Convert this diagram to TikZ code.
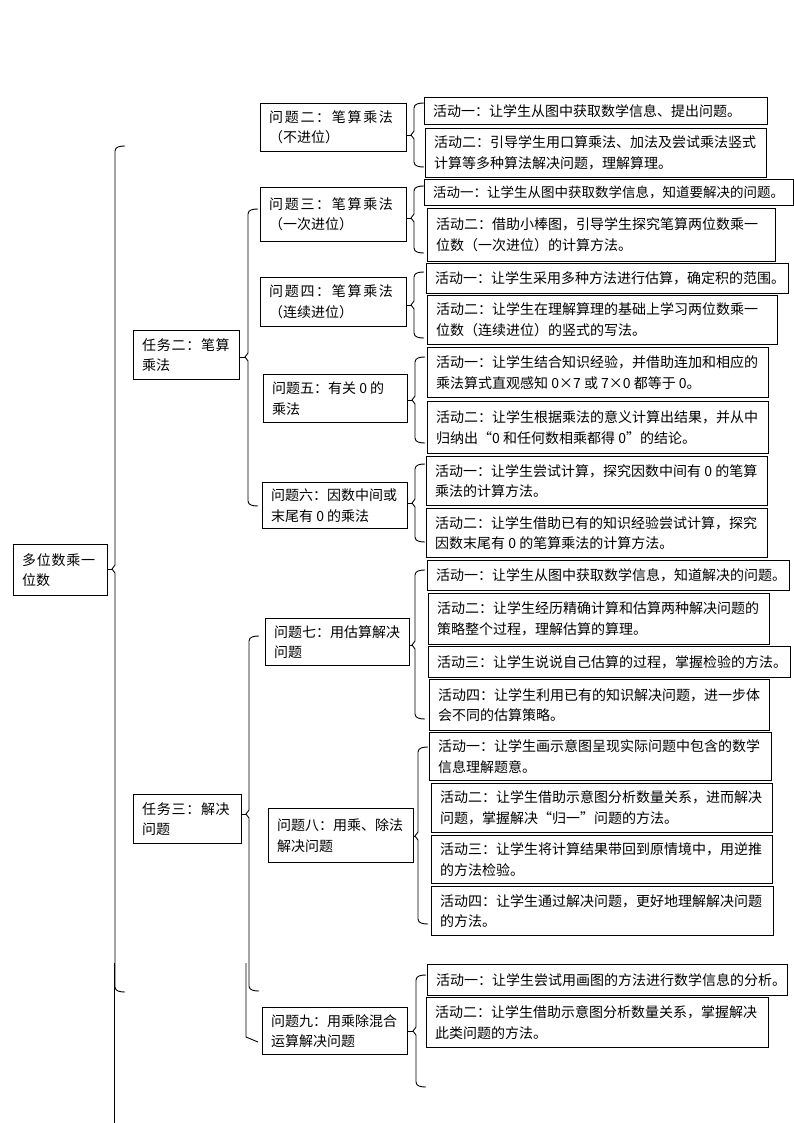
\documentclass[tikz,border=0pt]{standalone}
\usepackage{fontspec}
\setmainfont{Noto Sans CJK SC}
\newfontfamily\cjk{Noto Sans CJK SC}
\tikzset{
  box/.style={draw, line width=0.9pt, rectangle, inner sep=0pt},
  txt/.style={inner sep=0pt, align=left, anchor=west, font=\cjk\fontsize{14}{20.5}\selectfont},
  brk/.style={draw, line width=0.9pt},
  conn/.style={draw, line width=0.9pt}
}
\newcommand\bx[6]{%
  \pgfmathsetmacro\bw{#4-#2}\pgfmathsetmacro\bh{#5-#3}%
  \node[box, minimum width=\bw pt, minimum height=\bh pt, anchor=north west] (#1) at (#2,#3) {};
  \node[txt] (#1-t) at ([xshift=9pt]#1.west) {#6};}
% brace: name, x, top, mid, bottom
\newcommand\brc[5]{%
  \coordinate (#1) at (#2-3,#4);
  \draw[brk] (#2+10,#3) to[out=180,in=90] (#2,#3+5) -- (#2,#4-4) -- (#1) -- (#2,#4+4) -- (#2,#5-5) to[out=-90,in=180] (#2+10,#5);}
\newcommand\ls[1]{{\addfontfeature{LetterSpace=12}#1}}
\newcommand\lss[1]{{\addfontfeature{LetterSpace=5}#1}}
\begin{document}
\begin{tikzpicture}[x=1pt,y=-1pt]
\useasboundingbox (0,0) rectangle (794,1123);
% root and tasks
\bx{root}{13}{544}{107}{595}{\lss{多位数乘一}\\位数}
\bx{t2}{133}{330}{239}{379}{\lss{任务二：笔算}\\乘法}
\bx{t3}{133}{794}{241}{843}{\lss{任务三：解决}\\问题}
% problems
\bx{p2}{260}{103}{406}{151}{\ls{问题二：笔算乘法}\\（不进位）}
\bx{p3}{260}{187}{406}{241}{\ls{问题三：笔算乘法}\\（一次进位）}
\bx{p4}{260}{277}{406}{326}{\ls{问题四：笔算乘法}\\（连续进位）}
\bx{p5}{263}{374}{407}{422}{问题五：有关 0 的\\乘法}
\bx{p6}{262}{482}{407}{528}{问题六：因数中间或\\末尾有 0 的乘法}
\bx{p7}{265}{618}{409}{665}{问题七：用估算解决\\问题}
\bx{p8}{268}{808}{413}{862}{问题八：用乘、除法\\解决问题}
\bx{p9}{262}{1007}{407}{1054}{问题九：用乘除混合\\运算解决问题}
% activities
\bx{a21}{424}{97}{767}{124}{活动一：让学生从图中获取数学信息、提出问题。}
\bx{a22}{425}{128}{766}{177}{活动二：引导学生用口算乘法、加法及尝试乘法竖式\\计算等多种算法解决问题，理解算理。}
\bx{a31}{424}{179}{793}{205}{{\fontsize{13.5}{20.5}\selectfont 活动一：让学生从图中获取数学信息，知道要解决的问题。}}
\bx{a32}{427}{208}{775}{261}{活动二：借助小棒图，引导学生探究笔算两位数乘一\\位数（一次进位）的计算方法。}
\bx{a41}{426}{263}{788}{293}{活动一：让学生采用多种方法进行估算，确定积的范围。}
\bx{a42}{427}{295}{777}{344}{活动二：让学生在理解算理的基础上学习两位数乘一\\位数（连续进位）的竖式的写法。}
\bx{a51}{427}{347}{768}{397}{活动一：让学生结合知识经验，并借助连加和相应的\\乘法算式直观感知 0×7 或 7×0 都等于 0。}
\bx{a52}{427}{401}{768}{453}{活动二：让学生根据乘法的意义计算出结果，并从中\\归纳出“0 和任何数相乘都得 0”的结论。}
\bx{a61}{426}{456}{767}{505}{活动一：让学生尝试计算，探究因数中间有 0 的笔算\\乘法的计算方法。}
\bx{a62}{426}{508}{767}{557}{活动二：让学生借助已有的知识经验尝试计算，探究\\因数末尾有 0 的笔算乘法的计算方法。}
\bx{a71}{427}{560}{789}{590}{活动一：让学生从图中获取数学信息，知道解决的问题。}
\bx{a72}{428}{593}{769}{644}{活动二：让学生经历精确计算和估算两种解决问题的\\策略整个过程，理解估算的算理。}
\bx{a73}{428}{646}{790}{677}{活动三：让学生说说自己估算的过程，掌握检验的方法。}
\bx{a74}{429}{679}{769}{730}{活动四：让学生利用已有的知识解决问题，进一步体\\会不同的估算策略。}
\bx{a81}{429}{732}{771}{780}{活动一：让学生画示意图呈现实际问题中包含的数学\\信息理解题意。}
\bx{a82}{431}{783}{772}{832}{活动二：让学生借助示意图分析数量关系，进而解决\\问题，掌握解决“归一”问题的方法。}
\bx{a83}{431}{835}{772}{883}{活动三：让学生将计算结果带回到原情境中，用逆推\\的方法检验。}
\bx{a84}{431}{886}{773}{935}{活动四：让学生通过解决问题，更好地理解解决问题\\的方法。}
\bx{a91}{427}{964}{787}{995}{活动一：让学生尝试用画图的方法进行数学信息的分析。}
\bx{a92}{426}{997}{768}{1047}{活动二：让学生借助示意图分析数量关系，掌握解决\\此类问题的方法。}
% braces
\brc{broot}{115}{146}{569}{992}
\brc{bt2}{248}{209}{357}{506}
\brc{bt3}{249}{636}{814}{991}
\brc{bp2}{414}{103}{135}{167}
\brc{bp3}{414}{186}{218}{253}
\brc{bp4}{414}{272}{305}{338}
\brc{bp5}{415}{357}{400}{443}
\brc{bp6}{415}{464}{503}{542}
\brc{bp7}{415}{570}{645}{719}
\brc{bp8}{418}{747}{836}{924}
\brc{bp9}{416}{975}{1031}{1087}
% connectors from parents to brace tips
\draw[conn] (root.east |- broot) -- (broot);
\draw[conn] (t2.east |- bt2) -- (bt2);
\draw[conn] (t3.east |- bt3) -- (bt3);
\draw[conn] (p2.east |- bp2) -- (bp2);
\draw[conn] (p3.east |- bp3) -- (bp3);
\draw[conn] (p4.east |- bp4) -- (bp4);
\draw[conn] (p5.east |- bp5) -- (bp5);
\draw[conn] (p6.east |- bp6) -- (bp6);
\draw[conn] (p7.east |- bp7) -- (bp7);
\draw[conn] (p8.east |- bp8) -- (bp8);
\draw[conn] (p9.east |- bp9) -- (bp9);
% stray lines
\coordinate (s1) at (114,963);
\coordinate (s2) at (114,1123);
\draw[conn] (s1) -- (s2);
\coordinate (s3) at (246,963);
\coordinate (s4) at (246,1037);
\coordinate (s5) at (258,1042);
\draw[conn] (s3) -- (s4) -- (s5);
\end{tikzpicture}
\end{document}
